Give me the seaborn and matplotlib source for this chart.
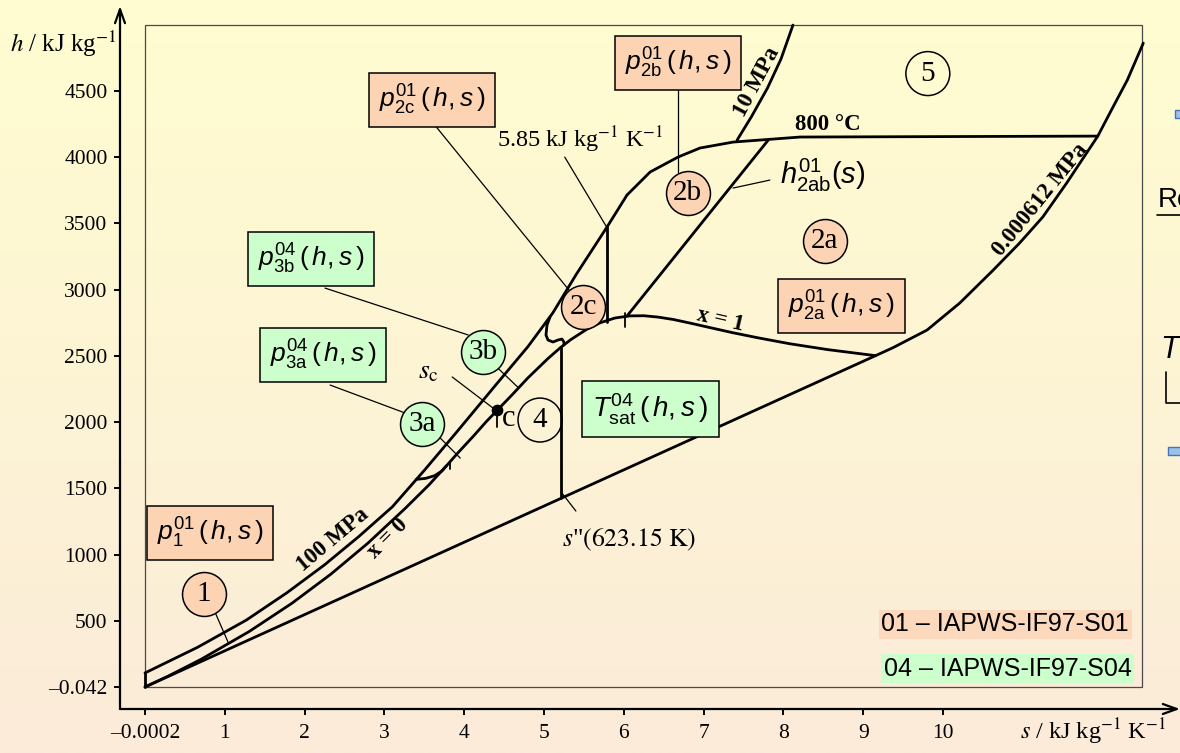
import numpy as np
import matplotlib
matplotlib.use("Agg")
import matplotlib.pyplot as plt
import seaborn as sns
from matplotlib.patches import Rectangle
from matplotlib.lines import Line2D

# ---------------- data (s in kJ/(kg K), h in kJ/kg) ----------------
sat_liq_s = [0.0, 0.2965, 0.7038, 1.3069, 1.8418, 2.3305, 2.7935, 3.2552, 3.5580, 3.7800, 3.9167, 4.1112, 4.28, 4.412]
sat_liq_h = [0.0, 83.9, 209.3, 419.2, 632.2, 852.3, 1085.7, 1344.8, 1525.2, 1671.0, 1764.2, 1890.7, 2005.0, 2087.5]

sat_vap_s = [4.412, 4.60, 4.797, 5.053, 5.211, 5.336, 5.537, 5.706, 5.889, 6.073, 6.250, 6.430, 6.624,
             6.837, 7.077, 7.354, 7.684, 8.075, 8.556, 9.1555]
sat_vap_h = [2087.5, 2205.0, 2332.1, 2481.0, 2563.9, 2622.0, 2700.1, 2749.6, 2785.0, 2801.0, 2802.2, 2792.0, 2773.6,
             2745.9, 2713.1, 2675.6, 2635.3, 2591.3, 2546.5, 2500.9]

triple_s = [0.0, 9.1555]
triple_h = [0.0, 2500.9]

p100_s = [0.0, 0.66, 1.27, 1.78, 2.25, 2.68, 3.10, 3.50, 3.90, 4.41, 4.80, 5.11, 5.41, 5.79, 6.04]
p100_h = [106, 300, 505, 712, 922, 1136, 1360, 1635, 1920, 2290, 2570, 2823, 3120, 3472, 3713]

s0_s = [0.0, 0.0]
s0_h = [0.0, 106.0]

t800_s = [6.04, 6.33, 6.68, 6.955, 7.37, 8.21, 11.94]
t800_h = [3713, 3887, 4000, 4068, 4113, 4151, 4158]

p10_s = [7.42, 7.60, 7.80, 7.97, 8.12]
p10_h = [4128, 4305, 4520, 4740, 4996]

ptr_s = [9.1555, 9.37, 9.80, 10.21, 10.63, 10.96, 11.25, 11.55, 11.94, 12.13, 12.31, 12.51]
ptr_h = [2500.9, 2560, 2694, 2898, 3147, 3351, 3547, 3804, 4158, 4377, 4581, 4860]

h2ab_s = [6.04, 7.81]
h2ab_h = [2800, 4128]

s585_s = [5.785, 5.785]
s585_h = [2752, 3472]

ssat_s = [5.2112, 5.2112]
ssat_h = [1423.5, 2563.9]

b3_2c_s = [5.075, 5.038, 5.025, 5.05, 5.113, 5.175, 5.225, 5.25, 5.25]
b3_2c_h = [2792, 2732, 2657, 2619, 2604, 2619, 2626, 2604, 2581]

b13_s = [3.40, 3.52, 3.63, 3.72, 3.78]
b13_h = [1567, 1575, 1595, 1630, 1671]

crit_s, crit_h = 4.412, 2087.5

x_ticks = [0, 1, 2, 3, 4, 5, 6, 7, 8, 9, 10]
x_labels = ["–0.0002", "1", "2", "3", "4", "5", "6", "7", "8", "9", "10"]
y_ticks = [0, 500, 1000, 1500, 2000, 2500, 3000, 3500, 4000, 4500]
y_labels = ["–0.042", "500", "1000", "1500", "2000", "2500", "3000", "3500", "4000", "4500"]

# ---------------- style ----------------
sns.set_theme(style="white")
plt.rcParams["font.family"] = ["Liberation Serif", "DejaVu Serif"]
plt.rcParams["text.color"] = "black"
plt.rcParams["axes.labelcolor"] = "black"
plt.rcParams["xtick.color"] = "black"
plt.rcParams["ytick.color"] = "black"
plt.rcParams["mathtext.fontset"] = "custom"
plt.rcParams["mathtext.rm"] = "Liberation Sans"
plt.rcParams["mathtext.it"] = "Liberation Sans:italic"
plt.rcParams["mathtext.bf"] = "Liberation Sans:bold"
plt.rcParams["mathtext.sf"] = "Liberation Sans"

PEACH = "#FCD4B4"
GREEN = "#CCFFCC"

W, H = 1180, 753
fig = plt.figure(figsize=(W / 100, H / 100), dpi=100)

# gradient background
bg = fig.add_axes([0, 0, 1, 1], zorder=-10)
top = np.array([255, 253, 208]) / 255.0
bot = np.array([251, 235, 217]) / 255.0
t = np.linspace(0, 1, 256)[:, None]
grad = top[None, :] * (1 - t) + bot[None, :] * t
bg.imshow(grad[:, None, :], aspect="auto", extent=[0, 1, 0, 1])
bg.axis("off")

ax = fig.add_axes([120 / W, 44 / H, 1060 / W, 703 / H])
ax.set_facecolor("none")
ax.set_xlim(-0.313, 12.97)
ax.set_ylim(-166, 5140)
for sp in ax.spines.values():
    sp.set_visible(False)

# axis arrows
arr = dict(arrowstyle="->,head_length=0.5,head_width=0.18", lw=1.6, color="black",
           shrinkA=0, shrinkB=0, mutation_scale=20)
ax.annotate("", xy=(0, 1), xytext=(0, 0), xycoords="axes fraction", textcoords="axes fraction",
            arrowprops=arr, annotation_clip=False)
ax.annotate("", xy=(1, 0), xytext=(0, 0), xycoords="axes fraction", textcoords="axes fraction",
            arrowprops=arr, annotation_clip=False)

ax.set_xticks(x_ticks)
ax.set_xticklabels(x_labels)
ax.set_yticks(y_ticks)
ax.set_yticklabels(y_labels)
ax.tick_params(axis="both", which="both", bottom=True, left=True, direction="out",
               length=4, width=1.4, color="black", labelsize=15.5, labelcolor="black")
ax.tick_params(axis="x", pad=7)
ax.tick_params(axis="y", pad=5)
for lab in ax.get_xticklabels() + ax.get_yticklabels():
    lab.set_fontfamily("Liberation Serif")
ax.grid(False)
ax.set_xlabel("")
ax.set_ylabel("")

# inner frame
ax.add_patch(Rectangle((0, 0), 12.5, 5000, fill=False, ec="#4a4a4a", lw=0.9, zorder=1))

# ---------------- curves ----------------
thick = dict(color="black", linewidth=2.0, sort=False, estimator=None, ax=ax, zorder=3)
for xs, ys in [(sat_liq_s, sat_liq_h), (sat_vap_s, sat_vap_h), (triple_s, triple_h),
               (p100_s, p100_h), (s0_s, s0_h), (t800_s, t800_h), (p10_s, p10_h),
               (ptr_s, ptr_h), (h2ab_s, h2ab_h), (s585_s, s585_h), (ssat_s, ssat_h),
               (b3_2c_s, b3_2c_h), (b13_s, b13_h)]:
    sns.lineplot(x=xs, y=ys, **thick)

# small boundary ticks
for (s, h0, h1) in [(4.412, 1962, 2075), (3.82, 1645, 1698), (6.015, 2717, 2823)]:
    ax.plot([s, s], [h0, h1], color="black", lw=1.3, zorder=3)

ax.scatter([crit_s], [crit_h], s=55, color="black", zorder=7)

# ---------------- leader lines ----------------
leaders = [((3.61, 4257), (5.32, 2991)),
           ((5.26, 4000), (5.785, 3472)),
           ((6.68, 4506), (6.68, 3887)),
           ((7.83, 3826), (7.37, 3766)),
           ((2.256, 3011), (4.05, 2657)),
           ((2.32, 2279), (3.26, 2068)),
           ((4.42, 2408), (4.67, 2264)),
           ((3.70, 1879), (3.95, 1728)),
           ((3.85, 2340), (4.36, 2106)),
           ((0.877, 566), (1.04, 340)),
           ((5.225, 1464), (5.40, 1328))]
for (a, b) in leaders:
    ax.plot([a[0], b[0]], [a[1], b[1]], color="black", lw=0.9, zorder=2)

# ---------------- circles ----------------
def circ(s, h, txt, fc):
    ax.scatter([s], [h], s=1000, facecolor=fc, edgecolor="black", linewidth=1.1, zorder=6)
    ax.text(s, h, txt, ha="center", va="center", fontsize=21, fontfamily="Liberation Serif",
            color="black", zorder=8)

circ(0.735, 700, "1", PEACH)
circ(8.52, 3370, "2a", PEACH)
circ(6.80, 3728, "2b", PEACH)
circ(5.49, 2868, "2c", PEACH)
circ(3.47, 1985, "3a", GREEN)
circ(4.236, 2528, "3b", GREEN)
circ(4.95, 2015, "4", "none")
circ(9.81, 4630, "5", "none")

# ---------------- boxes ----------------
def box(s, h, txt, fc, fs=19):
    ax.text(s, h, txt, ha="center", va="center", fontsize=fs, color="black", zorder=6,
            bbox=dict(boxstyle="square,pad=0.38", fc=fc, ec="black", lw=1.1))

box(0.815, 1162, r"$p^{01}_{\mathrm{1}}\,(\,h,s\,)$", PEACH)
box(3.60, 4430, r"$p^{01}_{\mathrm{2c}}\,(\,h,s\,)$", PEACH)
box(6.68, 4709, r"$p^{01}_{\mathrm{2b}}\,(\,h,s\,)$", PEACH)
box(8.73, 2875, r"$p^{01}_{\mathrm{2a}}\,(\,h,s\,)$", PEACH)
box(2.08, 3230, r"$p^{04}_{\mathrm{3b}}\,(\,h,s\,)$", GREEN)
box(2.23, 2506, r"$p^{04}_{\mathrm{3a}}\,(\,h,s\,)$", GREEN)
box(6.33, 2098, r"$T^{04}_{\mathrm{sat}}\,(\,h,s\,)$", GREEN, fs=20)

ax.text(7.96, 3864, r"$h^{01}_{\mathrm{2ab}}(s)$", ha="left", va="center", fontsize=21, zorder=6)

# ---------------- other annotations ----------------
ax.text(5.45, 4128, r"5.85 kJ kg$^{-1}$ K$^{-1}$", ha="center", va="center", fontsize=17.5,
        math_fontfamily="stix", zorder=6)
ax.text(6.07, 1109, r'$s$"$\left(\mathrm{623.15\ K}\right)$', ha="center", va="center", fontsize=18.5,
        math_fontfamily="stix", zorder=6)
ax.text(3.55, 2377, r"$s_{\mathrm{c}}$", ha="center", va="center", fontsize=20,
        math_fontfamily="stix", zorder=6)
ax.text(4.56, 2030, "c", ha="center", va="center", fontsize=22, zorder=6)

bold = dict(fontfamily="Liberation Serif", fontweight="bold", fontsize=16.5, ha="center",
            va="center", rotation_mode="anchor", zorder=6)
ax.text(2.356, 1109, "100 MPa", rotation=40, **bold)
ax.text(3.045, 1125, "x = 0", rotation=45, **bold)
ax.text(7.205, 2770, "x = 1", rotation=-13, **bold)
ax.text(8.56, 4242, "800 °C", rotation=0, **bold)
ax.text(7.67, 4566, "10 MPa", rotation=62, **bold)
ax.text(11.22, 3675, "0.000612 MPa", rotation=51, **bold)

# source legend
ax.text(10.78, 474, "01 – IAPWS-IF97-S01", ha="center", va="center", fontsize=18,
        fontfamily="Liberation Sans", zorder=6,
        bbox=dict(boxstyle="square,pad=0.1", fc="#FCD9BC", ec="none"))
ax.text(10.81, 136, "04 – IAPWS-IF97-S04", ha="center", va="center", fontsize=18,
        fontfamily="Liberation Sans", zorder=6,
        bbox=dict(boxstyle="square,pad=0.1", fc=GREEN, ec="none"))

# axis labels
fig.text(10 / W, 1 - 44 / H, r"$h$ / kJ kg$^{-1}$", ha="left", va="center", fontsize=18,
         math_fontfamily="stix", fontfamily="Liberation Serif")
fig.text(1020 / W, 1 - 732 / H, r"$s$ / kJ kg$^{-1}$ K$^{-1}$", ha="left", va="center", fontsize=17.5,
         math_fontfamily="stix", fontfamily="Liberation Serif")

# remnants of the neighbouring slide content at the right edge (cut off as in the reference)
fig.text(1158 / W, 1 - 200 / H, "Re", ha="left", va="center", fontsize=20, fontfamily="Liberation Sans")
fig.add_artist(Line2D([1157 / W, 1.0], [1 - 215 / H, 1 - 215 / H], color="black", lw=1.2))
fig.text(1160 / W, 1 - 350 / H, r"$T^{0}$", ha="left", va="center", fontsize=22)
fig.add_artist(Line2D([1166 / W, 1166 / W, 1.0], [1 - 372 / H, 1 - 403 / H, 1 - 403 / H],
                      color="black", lw=1.2))
fig.add_artist(Rectangle((1175 / W, 1 - 118 / H), 8 / W, 8 / H, transform=fig.transFigure,
                         fc="#9CC3E6", ec="#4472C4", lw=1))
fig.add_artist(Rectangle((1168 / W, 1 - 455 / H), 15 / W, 8 / H, transform=fig.transFigure,
                         fc="#9CC3E6", ec="#4472C4", lw=1))

fig.savefig("out.png", dpi=100)
